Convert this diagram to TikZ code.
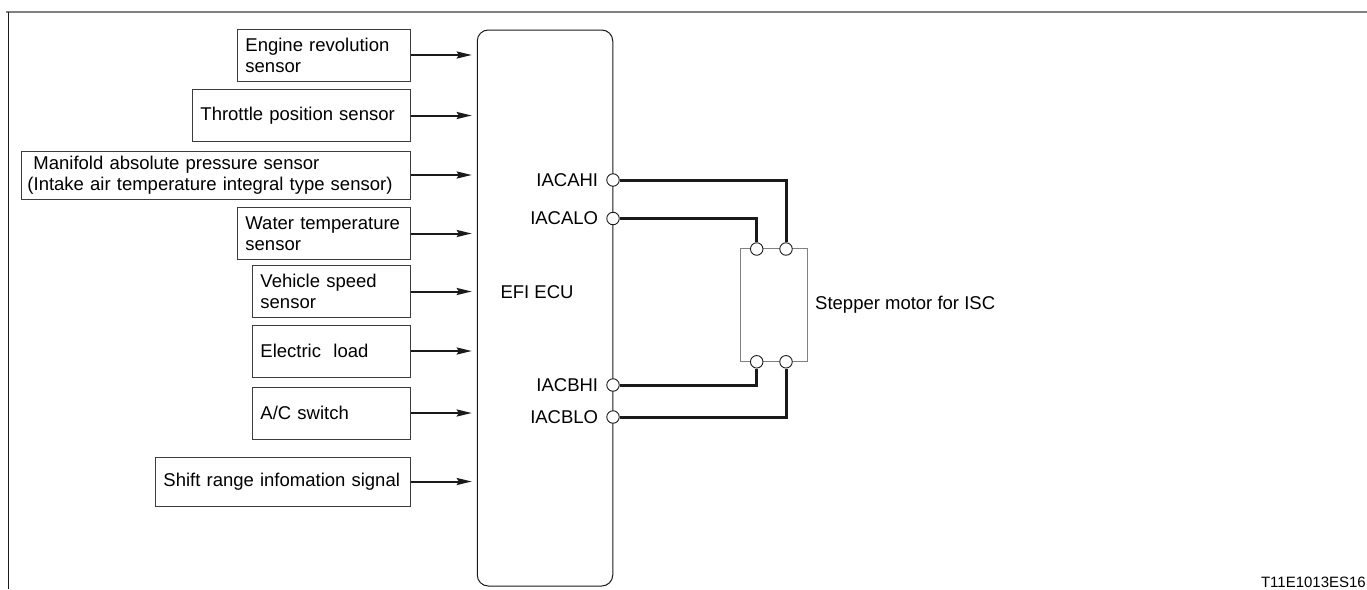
\documentclass[tikz,border=0pt]{standalone}
\usepackage{fontspec}
\setmainfont{Liberation Sans}
\usepackage{tikz}
\usetikzlibrary{arrows.meta,positioning}
\definecolor{ink}{HTML}{1A1A1A}
\definecolor{frame}{HTML}{808080}
\tikzset{
  sbox/.style={draw=ink!85,line width=0.9pt,anchor=west,align=left,inner xsep=8pt,
    minimum height=52pt,font=\fontsize{18.5}{21}\selectfont},
  pinc/.style={circle,draw=ink,line width=0.9pt,fill=white,inner sep=0pt,minimum size=12.5pt},
  plbl/.style={font=\fontsize{18.5}{21}\selectfont,inner sep=0pt},
  sarr/.style={-{Stealth[length=15pt,width=7pt,inset=2pt]},line width=2pt,draw=ink,shorten >=5pt},
  wire/.style={line width=3pt,draw=ink}
}
\begin{document}
\begin{tikzpicture}[x=1pt,y=-1pt]
  \useasboundingbox (0,0) rectangle (1367,589);
  % outer frame
  \draw[frame,line width=2pt] (6,12) -- (1367,12);
  \draw[ink,line width=0.8pt] (8,12) -- (8,589);
  % ECU
  \node[draw=ink,line width=1pt,rounded corners=11pt,minimum width=135.5pt,minimum height=556pt] (ecu) at (545,308) {};
  \node[plbl] (ecutxt) at (537,292) {EFI ECU};
  % sensors
  \node[sbox,text width=157pt] (eng) at (237,55) {Engine revolution\\sensor};
  \node[sbox,text width=202pt] (thr) at (192,115.5) {Throttle position sensor};
  \node[sbox,text width=377pt,inner xsep=6pt,minimum height=48pt] (map) at (21,175) {\hspace*{6pt}Manifold absolute pressure sensor\\(Intake air temperature integral type sensor)};
  \node[sbox,text width=157pt] (wtr) at (237,233.5) {Water temperature\\sensor};
  \node[sbox,text width=142pt] (vss) at (252,291.5) {Vehicle speed\\sensor};
  \node[sbox,text width=142pt] (eld) at (252,351) {Electric\ \ load};
  \node[sbox,text width=142pt] (acs) at (252,413) {A/C switch};
  \node[sbox,text width=239pt,minimum height=49pt] (sft) at (155,481.5) {Shift range infomation signal};
  \foreach \s in {eng,thr,map,wtr,vss,eld,acs,sft}
    \draw[sarr] (\s.east) -- (\s.east -| ecu.west);
  % ECU terminals
  \node[pinc,label={[plbl,label distance=8pt]left:IACAHI}] (ahi) at (613,180) {};
  \node[pinc,label={[plbl,label distance=8pt]left:IACALO}] (alo) at (613,218.5) {};
  \node[pinc,label={[plbl,label distance=8pt]left:IACBHI}] (bhi) at (613,385) {};
  \node[pinc,label={[plbl,label distance=8pt]left:IACBLO}] (blo) at (613,417) {};
  % stepper motor
  \node[draw=frame,line width=1pt,minimum width=67pt,minimum height=113pt] (motor) at (773.7,305.4) {};
  \node[pinc] (m1) at (756.7,249) {};
  \node[pinc] (m2) at (786,249) {};
  \node[pinc] (m3) at (756.7,361.8) {};
  \node[pinc] (m4) at (786,361.8) {};
  \node[plbl,anchor=west] (mtxt) at (815,305) {Stepper motor for ISC};
  \draw[wire] (ahi) -| (m2);
  \draw[wire] (alo) -| (m1);
  \draw[wire] (bhi) -| (m3);
  \draw[wire] (blo) -| (m4);
  \node[font=\fontsize{15}{17}\selectfont,anchor=south east,inner sep=0pt] (code) at (1366,588) {T11E1013ES16};
\end{tikzpicture}
\end{document}
